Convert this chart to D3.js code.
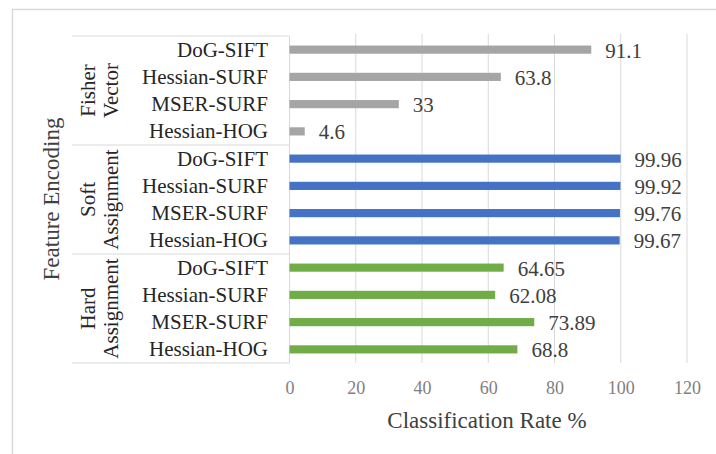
<!DOCTYPE html>
<html>
<head>
<meta charset="utf-8">
<script src="https://cdn.jsdelivr.net/npm/d3@7"></script>
<style>
  html, body { margin: 0; padding: 0; background: #fff; }
  text { font-family: "Liberation Serif", "Tinos", "Times New Roman", "DejaVu Serif", serif; }
</style>
</head>
<body>
<svg id="chart" width="716" height="454"></svg>
<script>
const FONT = "'Liberation Serif', 'Tinos', 'Times New Roman', 'DejaVu Serif', serif";

// Encoding groups, top to bottom
const groups = [
  ["Fisher", "Vector"],
  ["Soft", "Assignment"],
  ["Hard", "Assignment"]
];
const groupColors = ["#a5a5a5", "#4472c4", "#70ad47"];
// Feature detectors/descriptors within each group
const features = ["DoG-SIFT", "Hessian-SURF", "MSER-SURF", "Hessian-HOG"];
// Classification rate (%) per group, in feature order
const fisherValues = [91.1, 63.8, 33, 4.6];
const softValues = [99.96, 99.92, 99.76, 99.67];
const hardValues = [64.65, 62.08, 73.89, 68.8];
const xTicks = [0, 20, 40, 60, 80, 100, 120];

const seriesValues = [fisherValues, softValues, hardValues];
const rows = [];
groups.forEach((g, gi) => {
  features.forEach((f, fi) => {
    rows.push({ id: gi + "-" + fi, group: gi, feature: f, value: seriesValues[gi][fi] });
  });
});

const svg = d3.select("#chart").attr("font-family", FONT);

// Chart frame (runs off the right and bottom edges)
svg.append("rect")
  .attr("x", 12.5).attr("y", 9.5)
  .attr("width", 760).attr("height", 500)
  .attr("fill", "none").attr("stroke", "#d9d9d9").attr("stroke-width", 1.5);

const plotTop = 36, plotBottom = 363;
const x = d3.scaleLinear().domain([0, 120]).range([289.5, 687]);
const y = d3.scaleBand().domain(rows.map(r => r.id))
  .range([plotTop, plotBottom]).paddingInner(0.7).paddingOuter(0.35);

// Vertical gridlines
svg.append("g")
  .selectAll("line").data(xTicks.slice(1)).join("line")
  .attr("x1", d => x(d)).attr("x2", d => x(d))
  .attr("y1", plotTop - 2).attr("y2", plotBottom)
  .attr("stroke", "#d9d9d9").attr("stroke-width", 1);

// Category axis line
svg.append("line")
  .attr("x1", x(0)).attr("x2", x(0))
  .attr("y1", plotTop).attr("y2", plotBottom)
  .attr("stroke", "#d9d9d9").attr("stroke-width", 1);

// Group separators in the label area
const step = y.step();
const sepYs = d3.range(groups.length + 1).map(i => plotTop + i * features.length * step);
svg.append("g")
  .selectAll("line").data(sepYs).join("line")
  .attr("x1", 72).attr("x2", x(0))
  .attr("y1", d => d).attr("y2", d => d)
  .attr("stroke", "#d9d9d9").attr("stroke-width", 1.2);

// Bars
svg.append("g")
  .selectAll("rect").data(rows).join("rect")
  .attr("x", x(0))
  .attr("y", d => y(d.id))
  .attr("width", d => x(d.value) - x(0))
  .attr("height", y.bandwidth())
  .attr("fill", d => groupColors[d.group]);

// Value labels
svg.append("g")
  .selectAll("text").data(rows).join("text")
  .attr("x", d => x(d.value) + 14)
  .attr("y", d => y(d.id) + y.bandwidth() / 2 + 1)
  .attr("dominant-baseline", "central")
  .attr("font-family", FONT)
  .attr("font-size", 21)
  .attr("fill", "#404040")
  .text(d => d.value);

// Feature labels
svg.append("g")
  .selectAll("text").data(rows).join("text")
  .attr("x", 268)
  .attr("y", d => y(d.id) + y.bandwidth() / 2)
  .attr("dominant-baseline", "central")
  .attr("text-anchor", "end")
  .attr("font-family", FONT)
  .attr("font-size", 21)
  .attr("fill", "#262626")
  .text(d => d.feature);

// Group labels (two rotated lines each)
groups.forEach((g, gi) => {
  const cy = (sepYs[gi] + sepYs[gi + 1]) / 2;
  [88, 111].forEach((cx, li) => {
    svg.append("text")
      .attr("transform", `translate(${cx},${cy}) rotate(-90)`)
      .attr("text-anchor", "middle")
      .attr("dominant-baseline", "central")
      .attr("font-family", FONT)
      .attr("font-size", 21)
      .attr("fill", "#262626")
      .text(g[li]);
  });
});

// X axis tick labels
const xAxis = d3.axisBottom(x).tickValues(xTicks).tickSize(0).tickPadding(0);
const axisG = svg.append("g").attr("transform", `translate(0,${plotBottom})`).call(xAxis);
axisG.attr("font-family", FONT);
axisG.select(".domain").remove();
axisG.selectAll("text")
  .attr("y", 25)
  .attr("dy", null)
  .attr("dominant-baseline", "central")
  .attr("font-family", FONT)
  .attr("font-size", 18)
  .attr("fill", "#808080");

// Axis titles
svg.append("text")
  .attr("x", 487).attr("y", 420)
  .attr("text-anchor", "middle")
  .attr("dominant-baseline", "central")
  .attr("font-family", FONT)
  .attr("font-size", 23)
  .attr("fill", "#404040")
  .text("Classification Rate %");

svg.append("text")
  .attr("transform", `translate(51,199) rotate(-90)`)
  .attr("text-anchor", "middle")
  .attr("dominant-baseline", "central")
  .attr("font-family", FONT)
  .attr("font-size", 23)
  .attr("fill", "#404040")
  .text("Feature Encoding");
</script>
</body>
</html>
